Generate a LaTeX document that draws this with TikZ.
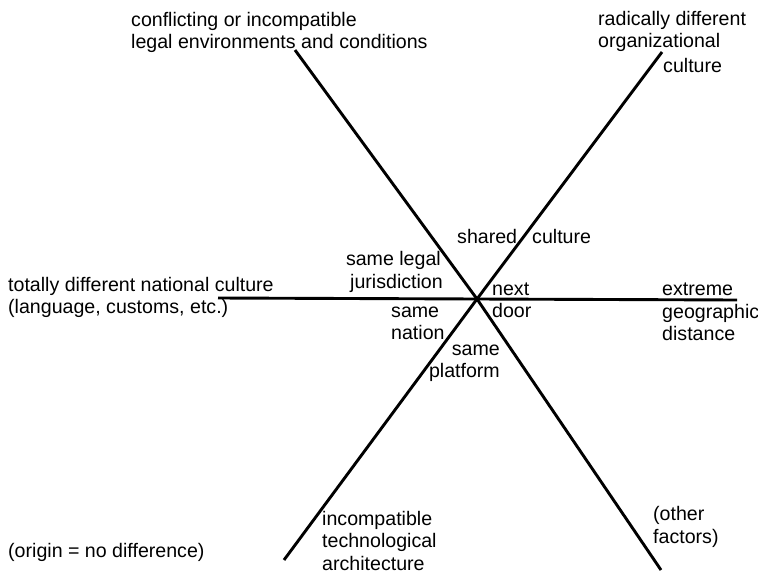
\documentclass[tikz,border=0pt]{standalone}
\usepackage{fontspec}
\setmainfont{Liberation Sans}
\begin{document}
\begin{tikzpicture}[x=1pt,y=-1pt,
  axis/.style={line width=2.9pt,black},
  lbl/.style={inner sep=0pt,anchor=base west,font=\fontsize{19.6}{22}\selectfont},
  lble/.style={lbl,anchor=base east}]
\useasboundingbox (0,0) rectangle (758,573);
% axis ends and origin
\coordinate (o) at (477,299);
\coordinate (ul) at (295,50);
\coordinate (ur) at (662,52);
\coordinate (ll) at (284,560);
\coordinate (lr) at (661,570);
\coordinate (l) at (218,298);
\coordinate (r) at (737,300);
\draw[axis] (ul) -- (o) -- (lr);
\draw[axis] (ur) -- (o) -- (ll);
\draw[axis] (l) -- (r);
% far ends of the axes
\node[lbl] (t1a) at (131,26) {conflicting or incompatible};
\node[lbl] (t1b) at (131,48) {legal environments and conditions};
\node[lbl] (t2a) at (598,25) {radically different};
\node[lbl] (t2b) at (598,47) {organizational};
\node[lbl] (t2c) at (663,72) {culture};
\node[lbl] (t3a) at (8,291) {totally different national culture};
\node[lbl] (t3b) at (8,313) {(language, customs, etc.)};
\node[lbl] (t4a) at (662,295) {extreme};
\node[lbl] (t4b) at (662,318) {geographic};
\node[lbl] (t4c) at (662,340) {distance};
\node[lbl] (t5a) at (322,525) {incompatible};
\node[lbl] (t5b) at (322,547) {technological};
\node[lbl] (t5c) at (322,570) {architecture};
\node[lbl] (t6a) at (653,520) {(other};
\node[lbl] (t6b) at (653,543) {factors)};
\node[lbl] (t7) at (8,557) {(origin = no difference)};
% near ends of the axes
\node[lbl] (n1a) at (457,243) {shared};
\node[lbl] (n1b) at (532,243) {culture};
\node[lble] (n2a) at (441,265) {same legal};
\node[lble] (n2b) at (443,288) {jurisdiction};
\node[lbl] (n3a) at (492,295) {next};
\node[lbl] (n3b) at (492,317) {door};
\node[lbl] (n4a) at (391,317) {same};
\node[lbl] (n4b) at (391,339) {nation};
\node[lble] (n5a) at (500,355) {same};
\node[lble] (n5b) at (500,377) {platform};
\end{tikzpicture}
\end{document}
